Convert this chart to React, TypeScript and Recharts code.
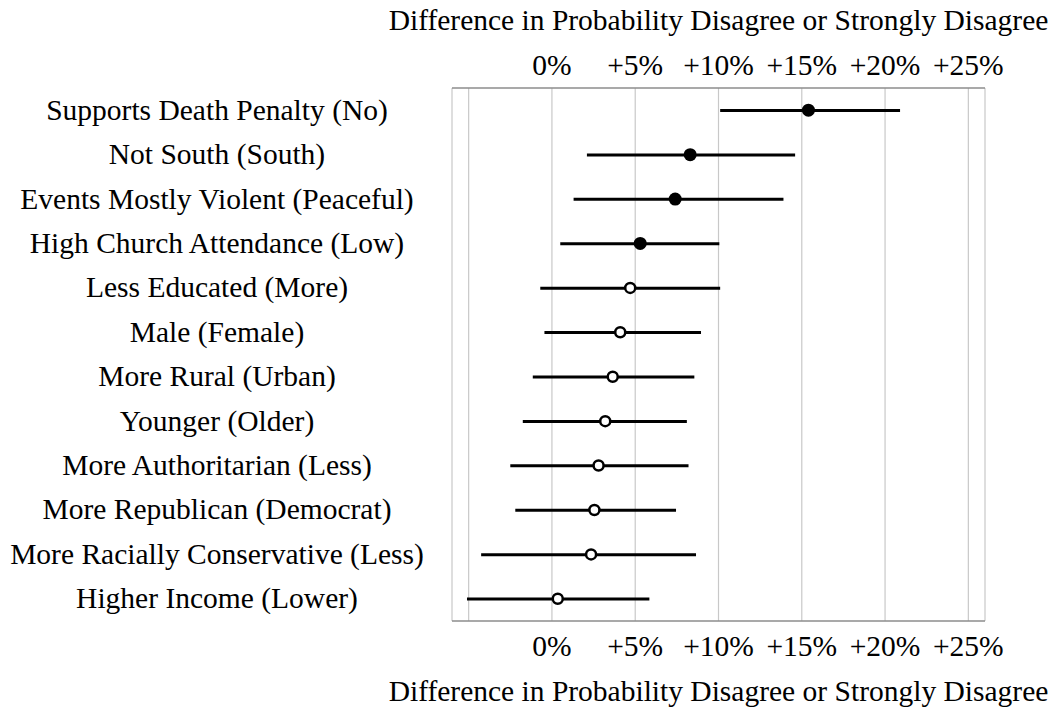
import React from "react"
import {
  ComposedChart, Bar, Scatter, XAxis, YAxis, CartesianGrid,
} from "recharts"

const categories = [
  "Supports Death Penalty (No)",
  "Not South (South)",
  "Events Mostly Violent (Peaceful)",
  "High Church Attendance (Low)",
  "Less Educated (More)",
  "Male (Female)",
  "More Rural (Urban)",
  "Younger (Older)",
  "More Authoritarian (Less)",
  "More Republican (Democrat)",
  "More Racially Conservative (Less)",
  "Higher Income (Lower)",
]
const estimates = [15.4, 8.3, 7.4, 5.3, 4.7, 4.1, 3.65, 3.2, 2.8, 2.55, 2.35, 0.35]
const lower = [10.1, 2.1, 1.3, 0.5, -0.7, -0.45, -1.15, -1.75, -2.5, -2.2, -4.25, -5.1]
const upper = [20.9, 14.6, 13.9, 10.05, 10.1, 8.95, 8.55, 8.1, 8.2, 7.45, 8.65, 5.85]
const significant = [true, true, true, true, false, false, false, false, false, false, false, false]
const xTicks = [-5, 0, 5, 10, 15, 20, 25]
const xDomain = [-6, 26]
const axisTitle = "Difference in Probability Disagree or Strongly Disagree"

const rows = categories.map((label, i) => ({
  label,
  est: estimates[i],
  range: [lower[i], upper[i]],
  sig: significant[i],
}))

const FONT = "'Liberation Serif', 'Times New Roman', serif"
const FS = 29.5

// -5 gets a gridline but no label
const fmtPct = (v: number) => (v < 0 ? "" : v === 0 ? "0%" : `+${v}%`)

function XTick({ x, y, payload, dy }: any) {
  return (
    <text x={x} y={y + dy} textAnchor="middle" fontFamily={FONT} fontSize={FS} fill="#000">
      {fmtPct(payload.value)}
    </text>
  )
}

function YTick({ y, payload }: any) {
  return (
    <text x={217} y={y + 9.5} textAnchor="middle" fontFamily={FONT} fontSize={FS} fill="#000">
      {payload.value}
    </text>
  )
}

function TitleLabel({ viewBox, dy }: any) {
  const { x, y, width } = viewBox
  return (
    <text x={x + width / 2} y={y + dy} textAnchor="middle" fontFamily={FONT} fontSize={FS} fill="#000">
      {axisTitle}
    </text>
  )
}

function Dot({ cx, cy, payload }: any) {
  if (payload.sig) return <circle cx={cx} cy={cy} r={6.5} fill="#000" />
  return <circle cx={cx} cy={cy} r={5} fill="#fff" stroke="#000" strokeWidth={2.5} />
}

export default function App() {
  return (
    <div style={{ position: "absolute", left: 0, top: 0, width: 1053, height: 708, background: "#fff" }}>
      <ComposedChart
        width={1053}
        height={708}
        data={rows}
        layout="vertical"
        margin={{ top: 0, right: 68, bottom: 0, left: 0 }}
      >
        <CartesianGrid xAxisId="bottom" horizontal={false} stroke="#c8c8c8" strokeWidth={1.2} />
        <XAxis
          xAxisId="top"
          orientation="top"
          type="number"
          domain={xDomain}
          ticks={xTicks}
          height={88}
          tickSize={0}
          tickMargin={0}
          tickLine={false}
          axisLine={{ stroke: "#8c8c8c", strokeWidth: 1.5 }}
          tick={<XTick dy={-13.5} />}
          label={<TitleLabel dy={29.5} />}
          allowDataOverflow
        />
        <XAxis
          xAxisId="bottom"
          orientation="bottom"
          type="number"
          domain={xDomain}
          ticks={xTicks}
          height={87}
          tickSize={0}
          tickMargin={0}
          tickLine={false}
          axisLine={{ stroke: "#8c8c8c", strokeWidth: 1.5 }}
          tick={<XTick dy={34.5} />}
          label={<TitleLabel dy={79.5} />}
          allowDataOverflow
        />
        <YAxis
          type="category"
          dataKey="label"
          width={452}
          axisLine={false}
          tickLine={false}
          tick={<YTick />}
          interval={0}
        />
        <Bar xAxisId="bottom" dataKey="range" barSize={3} fill="#000" isAnimationActive={false} />
        <Scatter xAxisId="bottom" dataKey="est" shape={<Dot />} isAnimationActive={false} />
      </ComposedChart>
    </div>
  )
}
